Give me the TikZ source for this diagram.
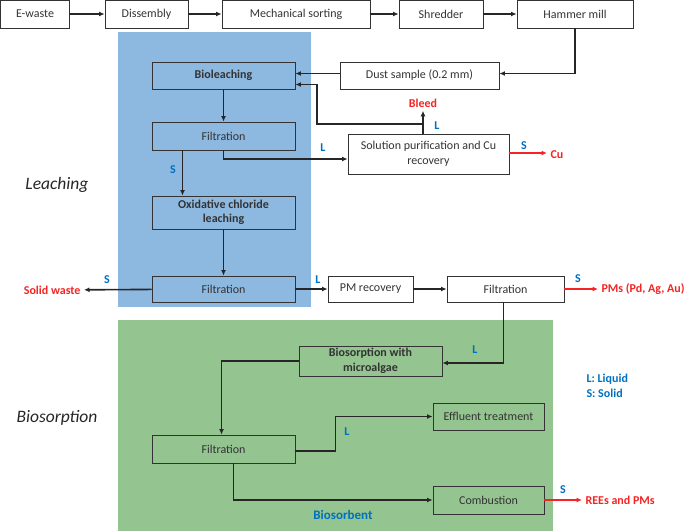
\documentclass[tikz,border=0pt]{standalone}
\usepackage{fontspec}
\setmainfont{Carlito}
\usetikzlibrary{arrows.meta}
\usetikzlibrary{positioning}
\definecolor{leachblue}{RGB}{141,184,224}
\definecolor{biogreen}{RGB}{148,196,143}
\definecolor{labelblue}{RGB}{0,112,192}
\definecolor{outred}{RGB}{245,35,35}

\begin{document}
\begin{tikzpicture}[x=1pt,y=-1pt,line join=miter,
  font=\fontsize{12}{14.5}\selectfont,
  box/.style={draw=black!80,line width=0.9pt,inner sep=0pt,align=center,text=black!80},
  flow/.style={-{Latex[length=5.5pt,width=5pt]},line width=1.6pt,black!85},
  outflow/.style={flow,outred},
  tag/.style={font=\fontsize{12}{14.5}\selectfont\bfseries,text=labelblue},
  prod/.style={font=\fontsize{12}{14.5}\selectfont\bfseries,text=outred},
  stage/.style={font=\fontsize{17.5}{20}\selectfont\itshape,text=black!85}]
\useasboundingbox (0,0) rectangle (685,531);
% stage backgrounds
\fill[leachblue] (118,32) rectangle (311,307);
\fill[biogreen] (118,320) rectangle (553,531);
% top row
\node[box,minimum width=69pt,minimum height=28pt] (ewaste) at (35,14) {E-waste};
\node[box,minimum width=83pt,minimum height=28pt] (diss) at (146.5,14) {Dissembly};
\node[box,minimum width=148pt,minimum height=28pt] (mech) at (296,14) {Mechanical sorting};
\node[box,minimum width=84pt,minimum height=28pt] (shred) at (441,14) {Shredder};
\node[box,minimum width=116pt,minimum height=28pt] (hammer) at (575,14) {Hammer mill};
% leaching
\node[box,minimum width=143pt,minimum height=27pt,font=\fontsize{12}{14.5}\selectfont\bfseries] (bioleach) at (223.5,75.5) {Bioleaching};
\node[box,minimum width=159pt,minimum height=27pt] (dust) at (419.5,75.5) {Dust sample (0.2 mm)};
\node[box,minimum width=143pt,minimum height=28pt] (filt1) at (223.5,136) {Filtration};
\node[box,minimum width=161pt,minimum height=40pt] (solpur) at (428.5,154) {Solution purification and Cu\\recovery};
\node[box,minimum width=143pt,minimum height=33pt,font=\fontsize{12}{14.5}\selectfont\bfseries] (oxid) at (223.5,212.5) {Oxidative chloride\\leaching};
\node[box,minimum width=143pt,minimum height=26pt] (filt2) at (223.5,289) {Filtration};
\node[box,minimum width=85pt,minimum height=26pt] (pmrec) at (370.5,289) {PM recovery};
\node[box,minimum width=117pt,minimum height=26pt] (filt3) at (505.5,289) {Filtration};
% biosorption
\node[box,minimum width=143pt,minimum height=30pt,font=\fontsize{12}{14.5}\selectfont\bfseries] (biosorp) at (370.5,361) {Biosorption with\\microalgae};
\node[box,minimum width=143pt,minimum height=28pt] (filt4) at (223.5,449) {Filtration};
\node[box,minimum width=111pt,minimum height=27pt] (effl) at (488.5,416.5) {Effluent treatment};
\node[box,minimum width=111pt,minimum height=28pt] (comb) at (488.5,500) {Combustion};
% products
\node[prod] (bleed) at (423,103) {Bleed};
\node[prod,anchor=west] (cu) at (547,155) {Cu};
\node[prod,anchor=east] (waste) at (84,290) {Solid waste};
\node[prod,anchor=west] (pms) at (598,289) {PMs (Pd, Ag, Au)};
\node[prod,anchor=west] (rees) at (582,500) {REEs and PMs};
% stage names and legend
\node[stage] (leachname) at (57,185) {Leaching};
\node[stage] (bioname) at (57,418) {Biosorption};
\node[tag,font=\fontsize{13}{15}\selectfont\bfseries] (sorbent) at (343,515) {Biosorbent};
\node[tag,anchor=north west,align=left] (legend) at (583,371) {L: Liquid\\S: Solid};
% connectors
\draw[flow] (ewaste) -- (diss);
\draw[flow] (diss) -- (mech);
\draw[flow] (mech) -- (shred);
\draw[flow] (shred) -- (hammer);
\draw[flow] (hammer.south) |- ([yshift=2pt]dust.east);
\draw[flow] ([yshift=2pt]dust.west) -- ([yshift=2pt]bioleach.east);
\draw[flow] (solpur.north -| bleed.south) -- (bleed.south);
\coordinate (recyc) at (317,124);
\draw[flow] (bleed.south |- recyc) -- (recyc) |- ([yshift=-9pt]bioleach.east);
\draw[flow] (bioleach) -- (filt1);
\draw[flow] (filt1.south) |- ([yshift=-5pt]solpur.west);
\draw[outflow] ([yshift=1pt]solpur.east) -- ([yshift=1pt]solpur.east -| cu.west);
\draw[flow] ([xshift=-41pt]filt1.south) -- ([xshift=-41pt]oxid.north);
\draw[flow] (oxid) -- (filt2);
\draw[flow] (filt2) -- (waste);
\draw[flow] (filt2) -- (pmrec);
\draw[flow] (pmrec) -- (filt3);
\draw[outflow] (filt3) -- (pms);
\draw[flow] ([xshift=-2pt]filt3.south) |- ([yshift=-2pt]biosorp.east);
\draw[flow] (biosorp.west) -| ([xshift=-2pt]filt4.north);
\draw[flow] ([yshift=-2pt]filt4.east) -- ++(40,0) |- (effl.west);
\draw[flow] ([xshift=10pt]filt4.south) |- (comb.west);
\draw[outflow] (comb) -- (rees);
% stream tags
\node[tag] (t1) at (437,126) {L};
\node[tag] (t2) at (323,148) {L};
\node[tag] (t3) at (524,146) {S};
\node[tag] (t4) at (173,170) {S};
\node[tag] (t5) at (107,280) {S};
\node[tag] (t6) at (318,280) {L};
\node[tag] (t7) at (578,279) {S};
\node[tag] (t8) at (475,350) {L};
\node[tag] (t9) at (347,432) {L};
\node[tag] (t10) at (563,490) {S};
\end{tikzpicture}
\end{document}
